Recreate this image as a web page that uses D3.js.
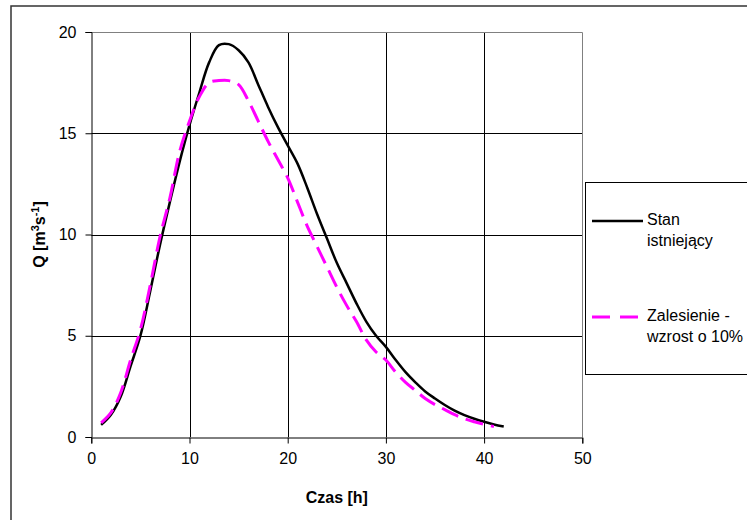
<!DOCTYPE html>
<html><head><meta charset="utf-8">
<script src="https://cdn.jsdelivr.net/npm/d3@7"></script>
<style>
html,body{margin:0;padding:0;background:#fff;}
svg{display:block;font-family:"Liberation Sans",Arial,sans-serif;}
</style></head>
<body>
<svg id="chart" width="747" height="520"></svg>
<script>
// Data
const hoursExisting = d3.range(1, 43);
const qExisting = [0.6,1.1,2.0,3.5,5.0,7.2,9.5,11.6,13.6,15.4,17.0,18.5,19.35,19.4,19.1,18.5,17.4,16.3,15.3,14.4,
  13.5,12.3,11.0,9.8,8.6,7.6,6.6,5.7,5.0,4.45,3.8,3.2,2.7,2.25,1.9,1.58,1.3,1.08,0.9,0.75,0.62,0.52];
const hoursForest = d3.range(1, 42);
const qForest = [0.7,1.2,2.2,3.8,5.3,7.5,9.9,11.8,14.1,15.6,16.8,17.5,17.6,17.6,17.4,16.6,15.6,14.6,13.7,12.8,
  11.6,10.4,9.4,8.4,7.4,6.5,5.7,4.8,4.2,3.8,3.2,2.7,2.3,1.9,1.6,1.35,1.1,0.9,0.75,0.62,0.52];
const xTicks = [0,10,20,30,40,50];
const yTicks = [0,5,10,15,20];
const seriesNames = ["Stan istniejący", "Zalesienie - wzrost o 10%"];

(function(){
const svg = d3.select("#chart");
const pL = 91.3, pR = 582.3, pT = 32, pB = 437;

// outer frame
svg.append("rect").attr("x", 11).attr("y", 6).attr("width", 760).attr("height", 530)
  .attr("fill", "none").attr("stroke", "#333").attr("stroke-width", 1.5);

const x = d3.scaleLinear().domain([0, 50]).range([pL, pR]);
const y = d3.scaleLinear().domain([0, 20]).range([pB, pT]);

// gridlines
const g = svg.append("g");
g.selectAll(".vg").data(xTicks.filter(d => d > 0 && d < 50)).join("line")
  .attr("x1", d => Math.round(x(d)) + 0.5).attr("x2", d => Math.round(x(d)) + 0.5)
  .attr("y1", pT).attr("y2", pB).attr("stroke", "#000").attr("stroke-width", 1);
g.selectAll(".hg").data(yTicks.filter(d => d > 0 && d < 20)).join("line")
  .attr("y1", d => Math.round(y(d)) + 0.5).attr("y2", d => Math.round(y(d)) + 0.5)
  .attr("x1", pL).attr("x2", pR).attr("stroke", "#000").attr("stroke-width", 1);
// plot border (top, right) gray
g.append("path")
  .attr("d", `M${pL},${Math.round(y(20))+0.5}H${Math.round(x(50))+0.5}V${pB}`)
  .attr("fill", "none").attr("stroke", "#808080").attr("stroke-width", 1);

// axes
const xAxis = d3.axisBottom(x).tickValues(xTicks).tickSize(6).tickPadding(9);
const yAxis = d3.axisLeft(y).tickValues(yTicks).tickSize(6).tickPadding(9);
const gx = svg.append("g").attr("transform", `translate(0,${Math.round(pB)+0.5})`).call(xAxis);
const gy = svg.append("g").attr("transform", `translate(${Math.round(pL)+0.5},0)`).call(yAxis);
[gx, gy].forEach(a => {
  a.select(".domain").attr("stroke", "#000").attr("stroke-width", 1);
  a.selectAll(".tick line").attr("stroke", "#000");
  a.selectAll(".tick text").attr("font-size", 16).attr("fill", "#000")
    .attr("font-family", "Liberation Sans, Arial, sans-serif");
});

// curves
const line = d3.line().x(d => x(d[0])).y(d => y(d[1])).curve(d3.curveCatmullRom.alpha(0.5));
svg.append("path").datum(hoursExisting.map((h, i) => [h, qExisting[i]]))
  .attr("d", line).attr("fill", "none").attr("stroke", "#000").attr("stroke-width", 2.5);
svg.append("path").datum(hoursForest.map((h, i) => [h, qForest[i]]))
  .attr("d", line).attr("fill", "none").attr("stroke", "#FF00FF").attr("stroke-width", 3)
  .attr("stroke-dasharray", "18,8");

// axis titles
svg.append("text").attr("x", (pL + pR) / 2).attr("y", 503).attr("text-anchor", "middle")
  .attr("font-size", 16).attr("font-weight", "bold").text("Czas [h]");
const yt = svg.append("text").attr("transform", `translate(45,${(pT + pB) / 2}) rotate(-90)`)
  .attr("text-anchor", "middle").attr("font-size", 16).attr("font-weight", "bold");
yt.append("tspan").text("Q [m");
yt.append("tspan").attr("font-size", 11).attr("dy", -6).text("3");
yt.append("tspan").attr("dy", 6).text("s");
yt.append("tspan").attr("font-size", 11).attr("dy", -6).text("-1");
yt.append("tspan").attr("dy", 6).text("]");

// legend
const lg = svg.append("g");
lg.append("rect").attr("x", 585.5).attr("y", 182.5).attr("width", 200).attr("height", 192)
  .attr("fill", "#fff").attr("stroke", "#000").attr("stroke-width", 1);
const legendItems = [
  {name: seriesNames[0], lines: ["Stan", "istniejący"], color: "#000", w: 2.5, dash: null, ly: 221},
  {name: seriesNames[1], lines: ["Zalesienie -", "wzrost o 10%"], color: "#FF00FF", w: 3, dash: "18,10", ly: 317}
];
legendItems.forEach(it => {
  lg.append("line").attr("x1", 592).attr("x2", 643).attr("y1", it.ly).attr("y2", it.ly)
    .attr("stroke", it.color).attr("stroke-width", it.w).attr("stroke-dasharray", it.dash);
  it.lines.forEach((t, i) => {
    lg.append("text").attr("x", 647).attr("y", it.ly + 4 + i * 20.5).attr("font-size", 16)
      .attr("fill", "#000").text(t);
  });
});
})();
</script>
</body></html>
